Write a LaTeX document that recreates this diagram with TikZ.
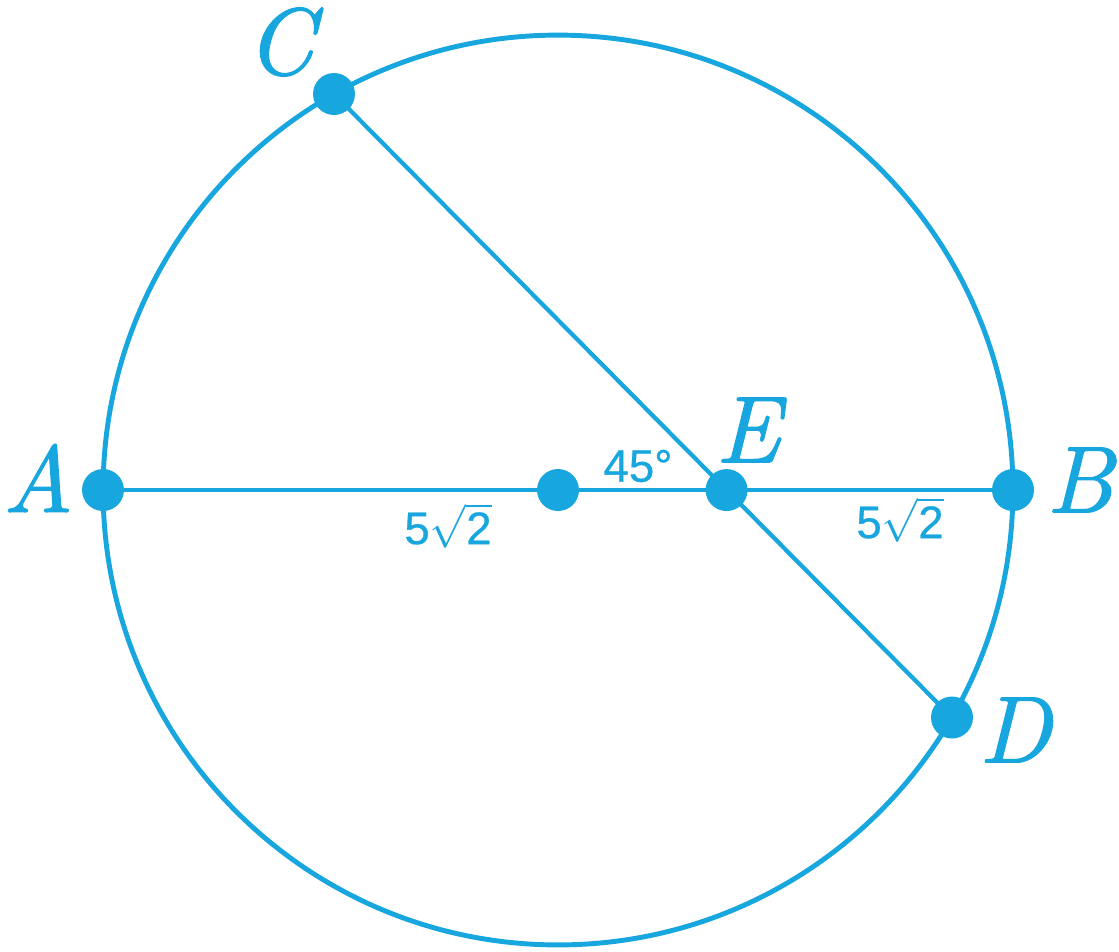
\documentclass[tikz,border=0pt]{standalone}
\usepackage{fontspec}
\newfontfamily\lsans{Liberation Sans}[FakeBold=0.6]
\newfontfamily\heavyit{lmroman10-italic.otf}[FakeBold=1.2]
\usetikzlibrary{calc}
\definecolor{sky}{RGB}{24,166,223}
\begin{document}
\begin{tikzpicture}[x=0.02cm,y=-0.02cm,
  dot/.style={circle,fill=sky,inner sep=0pt,minimum size=0.84cm},
  ptlabel/.style={text=sky,font=\heavyit\fontsize{54}{60}\selectfont},
  numlabel/.style={text=sky,font=\lsans\fontsize{26}{30}\selectfont},
  wire/.style={draw=sky,line width=2.8pt}]
\useasboundingbox (0,0) rectangle (1119,951);
\coordinate (O) at (558,490);
\coordinate (A0) at (103,490);
\coordinate (B0) at (1013,490);
\coordinate (C0) at (334,94);
\coordinate (D0) at (952,717.5);
\draw[wire] (O) circle[radius=9.1cm];
\draw[wire] (A0) -- (B0);
\draw[draw=sky,line width=2.4pt] (C0) -- (D0);
\path (intersection of A0--B0 and C0--D0) coordinate (E0);
\node[dot] (A) at (A0) {};
\node[dot] (B) at (B0) {};
\node[dot] (C) at (C0) {};
\node[dot] (D) at (D0) {};
\node[dot] (E) at (E0) {};
\node[dot] (M) at (O) {};
\node[ptlabel] (lA) at (38,478) {A};
\node[ptlabel] (lB) at (1080,480) {B};
\node[ptlabel] (lC) at (280,42) {C};
\node[ptlabel] (lD) at (1015,730) {D};
\node[ptlabel] (lE) at (748,430) {E};
\node[numlabel] (ang) at (638,466) {45°};
\node[numlabel] (l1) at (448,526) {5$\sqrt{\mbox{\lsans 2}}$};
\node[numlabel] (l2) at (900,520) {5$\sqrt{\mbox{\lsans 2}}$};
\end{tikzpicture}
\end{document}
